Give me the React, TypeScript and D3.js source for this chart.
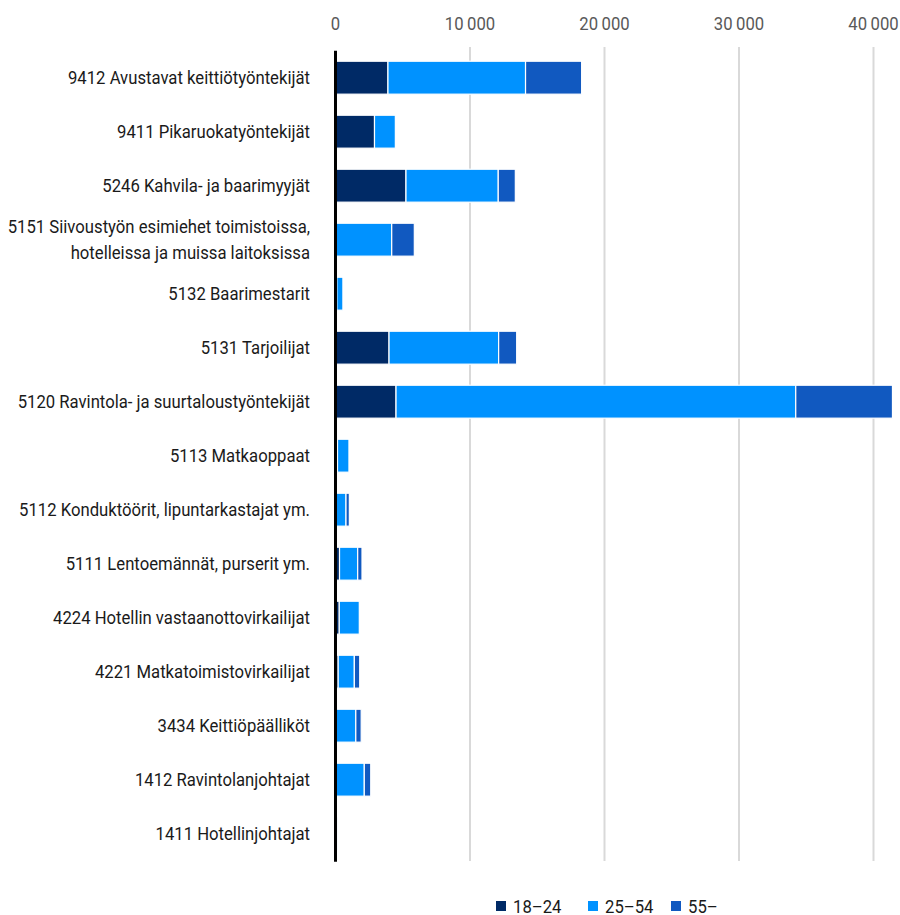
import React, { useEffect, useRef } from "react";
import * as d3 from "d3";

const categories: string[][] = [
  ["9412 Avustavat keittiötyöntekijät"],
  ["9411 Pikaruokatyöntekijät"],
  ["5246 Kahvila- ja baarimyyjät"],
  ["5151 Siivoustyön esimiehet toimistoissa,", "hotelleissa ja muissa laitoksissa"],
  ["5132 Baarimestarit"],
  ["5131 Tarjoilijat"],
  ["5120 Ravintola- ja suurtaloustyöntekijät"],
  ["5113 Matkaoppaat"],
  ["5112 Konduktöörit, lipuntarkastajat ym."],
  ["5111 Lentoemännät, purserit ym."],
  ["4224 Hotellin vastaanottovirkailijat"],
  ["4221 Matkatoimistovirkailijat"],
  ["3434 Keittiöpäälliköt"],
  ["1412 Ravintolanjohtajat"],
  ["1411 Hotellinjohtajat"],
];

const age18_24 = [3900, 2900, 5240, 0, 100, 3980, 4500, 150, 0, 300, 280, 200, 60, 0, 0];
const age25_54 = [10230, 1550, 6860, 4180, 450, 8150, 29720, 850, 780, 1350, 1490, 1200, 1450, 2140, 60];
const age55 = [4170, 0, 1270, 1680, 0, 1340, 7190, 0, 250, 320, 0, 400, 400, 480, 60];

const seriesNames = ["18–24", "25–54", "55–"];
const seriesColors = ["#002a66", "#0092ff", "#1159c0"];
const tickValues = [0, 10000, 20000, 30000, 40000];

const FONT = "Roboto, 'Liberation Sans', sans-serif";
const FS = 19;

export default function App() {
  const ref = useRef<SVGSVGElement>(null);

  useEffect(() => {
    const svg = d3.select(ref.current);
    svg.selectAll("*").remove();

    // measure a reference label to derive horizontal condensing factor
    const probe = svg
      .append("text")
      .attr("font-family", FONT)
      .attr("font-size", FS)
      .text("5112 Konduktöörit, lipuntarkastajat ym.");
    const w = (probe.node() as SVGTextElement).getComputedTextLength();
    probe.remove();
    const k = w > 0 ? 291 / w : 0.8;

    const rows = categories.map((c, i) => ({
      key: String(i),
      a: age18_24[i],
      b: age25_54[i],
      c: age55[i],
    }));
    const stack = d3.stack<any>().keys(["a", "b", "c"]);
    const stacked = stack(rows);

    const x = d3.scaleLinear().domain([0, 40000]).range([335.5, 873.5]);
    const y = d3
      .scaleBand()
      .domain(rows.map((r) => r.key))
      .range([50.7, 860.7])
      .paddingInner(0.39)
      .paddingOuter(0.195);

    const addText = (
      g: d3.Selection<SVGGElement, unknown, null, undefined>,
      tx: number,
      ty: number,
      anchor: string,
      fill: string,
      t: string
    ) => {
      g.append("text")
        .attr("transform", `translate(${tx},${ty}) scale(${k},1)`)
        .attr("dy", "0.35em")
        .attr("text-anchor", anchor)
        .attr("font-family", FONT)
        .attr("font-size", FS)
        .attr("fill", fill)
        .text(t);
    };

    // gridlines
    svg
      .append("g")
      .selectAll("line")
      .data(tickValues.slice(1))
      .join("line")
      .attr("x1", (d) => x(d))
      .attr("x2", (d) => x(d))
      .attr("y1", 47)
      .attr("y2", 861)
      .attr("stroke", "#d9d9d9")
      .attr("stroke-width", 2);

    // tick labels
    const tg = svg.append("g") as any;
    tickValues.forEach((d) => {
      const label = d === 0 ? "0" : d3.format(",")(d).replace(/,/g, "\u2009");
      addText(tg, x(d), 23, "middle", "#595959", label);
    });

    // bars
    svg
      .append("g")
      .selectAll("g")
      .data(stacked)
      .join("g")
      .attr("fill", (_d, i) => seriesColors[i])
      .selectAll("rect")
      .data((d) => d.map((v) => ({ v, key: v.data.key })))
      .join("rect")
      .attr("x", (d) => x(d.v[0]))
      .attr("y", (d) => y(d.key)!)
      .attr("width", (d) => Math.max(0, x(d.v[1]) - x(d.v[0])))
      .attr("height", y.bandwidth())
      .attr("stroke", "#ffffff")
      .attr("stroke-width", (d) => (d.v[1] - d.v[0] > 0 ? 1.2 : 0));

    // axis line
    svg
      .append("line")
      .attr("x1", x(0))
      .attr("x2", x(0))
      .attr("y1", 50.7)
      .attr("y2", 861.7)
      .attr("stroke", "#000000")
      .attr("stroke-width", 3);

    // category labels
    const labels = svg.append("g") as any;
    categories.forEach((lines, i) => {
      const cy = y(String(i))! + y.bandwidth() / 2;
      const lh = 26;
      const start = cy - ((lines.length - 1) * lh) / 2;
      lines.forEach((t, j) => {
        addText(labels, 310, start + j * lh, "end", "#1a1a1a", t);
      });
    });

    // legend
    const legendX = [496, 588, 671];
    const lg = svg.append("g") as any;
    seriesNames.forEach((n, i) => {
      lg.append("rect")
        .attr("x", legendX[i])
        .attr("y", 901)
        .attr("width", 10)
        .attr("height", 10)
        .attr("fill", seriesColors[i]);
      addText(lg, legendX[i] + 17, 906, "start", "#1a1a1a", n);
    });
  }, []);

  return (
    <svg
      ref={ref}
      width={900}
      height={915}
      style={{ position: "absolute", left: 0, top: 0, background: "#fff" }}
    />
  );
}
